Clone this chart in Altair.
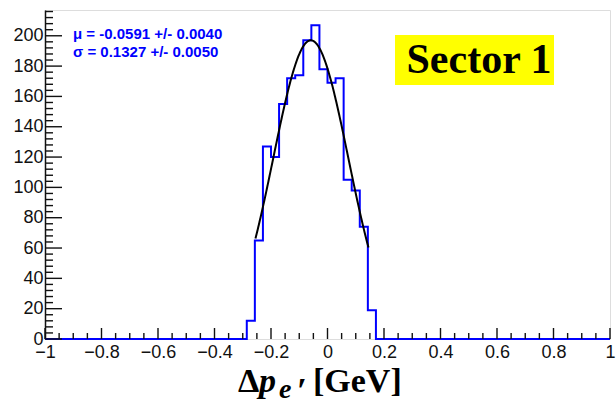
import altair as alt
import pandas as pd

# Histogram binning: 70 equal bins over [-1, 1]
N_BINS = 70
X_MIN, X_MAX = -1.0, 1.0
FIRST_FILLED_BIN = 25
filled_counts = [12, 65, 127, 120, 155, 172, 174, 197, 207, 178, 169, 172, 105, 98, 74, 19]

# Gaussian fit result
MU, MU_ERR = -0.0591, 0.0040
SIGMA, SIGMA_ERR = 0.1327, 0.0050
FIT_AMP = 197
FIT_LO, FIT_HI = -0.255, 0.145

# Axis ticks
x_major = [-1, -0.8, -0.6, -0.4, -0.2, 0, 0.2, 0.4, 0.6, 0.8, 1]
x_minor = [-0.95, -0.9, -0.85, -0.75, -0.7, -0.65, -0.55, -0.5, -0.45,
           -0.35, -0.3, -0.25, -0.15, -0.1, -0.05, 0.05, 0.1, 0.15,
           0.25, 0.3, 0.35, 0.45, 0.5, 0.55, 0.65, 0.7, 0.75, 0.85, 0.9, 0.95]
y_major = [0, 20, 40, 60, 80, 100, 120, 140, 160, 180, 200]
y_minor = [4, 8, 12, 16, 24, 28, 32, 36, 44, 48, 52, 56, 64, 68, 72, 76,
           84, 88, 92, 96, 104, 108, 112, 116, 124, 128, 132, 136, 144, 148,
           152, 156, 164, 168, 172, 176, 184, 188, 192, 196, 204, 208, 212, 216]
Y_MAX = 217

W, H = 565, 329
BLUE = "#0000ff"
SANS = "Liberation Sans"
SERIF = "Liberation Serif"

# Bin edges with per-bin contents (last edge repeats the last bin for the step line)
counts = [0] * N_BINS
for i, c in enumerate(filled_counts):
    counts[FIRST_FILLED_BIN + i] = c
bw = (X_MAX - X_MIN) / N_BINS
edges = [X_MIN + k * bw for k in range(N_BINS + 1)]
hist_df = pd.DataFrame({"edge": edges, "count": counts + [counts[-1]]})

xs = alt.Scale(domain=[X_MIN, X_MAX], nice=False, zero=False)
ys = alt.Scale(domain=[0, Y_MAX], nice=False, zero=True)

# The same axis definitions are used by every layer so they merge cleanly
x_axis = alt.Axis(values=x_major, format="~g", title=None, ticks=False,
                  grid=False, domain=False, labelFont=SANS, labelFontSize=18,
                  labelColor="#111", labelPadding=4, labelFlush=False,
                  labelOverlap=False, labelBound=False)
y_axis = alt.Axis(values=y_major, format="d", title=None, ticks=False,
                  grid=False, domain=True, domainColor="#111", domainWidth=1.5,
                  labelFont=SANS, labelFontSize=18, labelColor="#111",
                  labelPadding=2, labelOverlap=False, labelBound=False)

hist = alt.Chart(hist_df).mark_line(
    interpolate="step-after", color=BLUE, strokeWidth=2
).encode(
    x=alt.X("edge:Q", scale=xs, axis=x_axis),
    y=alt.Y("count:Q", scale=ys, axis=y_axis),
)

fit = alt.Chart(alt.sequence(0, 201, as_="i")).transform_calculate(
    x=f"{FIT_LO} + datum.i * ({FIT_HI} - ({FIT_LO})) / 200"
).transform_calculate(
    y=f"{FIT_AMP} * exp(-0.5 * pow((datum.x - ({MU})) / {SIGMA}, 2))"
).mark_line(color="black", strokeWidth=2).encode(
    x=alt.X("x:Q", scale=xs, axis=x_axis), y=alt.Y("y:Q", scale=ys, axis=y_axis)
)

# Inward-pointing ticks
def x_ticks(vals, length):
    return alt.Chart(pd.DataFrame({"xt": vals})).mark_rule(
        color="#111", strokeWidth=1.4
    ).encode(x=alt.X("xt:Q", scale=xs, axis=x_axis), y=alt.value(H),
             y2=alt.value(H - length))

def y_ticks(vals, length):
    return alt.Chart(pd.DataFrame({"yt": vals})).mark_rule(
        color="#111", strokeWidth=1.4
    ).encode(y=alt.Y("yt:Q", scale=ys, axis=y_axis), x=alt.value(0),
             x2=alt.value(length))

one = pd.DataFrame({"a": [0]})

def label(text, x, y, **kw):
    return alt.Chart(one).mark_text(align="left", baseline="alphabetic", **kw).encode(
        x=alt.value(x), y=alt.value(y), text=alt.value(text)
    )

stats1 = label(f"\u03bc = {MU:.4f} +/- {MU_ERR:.4f}", 28, 29, font=SANS,
               fontSize=15, fontWeight="bold", color=BLUE)
stats2 = label(f"\u03c3 = {SIGMA:.4f} +/- {SIGMA_ERR:.4f}", 28, 47, font=SANS,
               fontSize=15, fontWeight="bold", color=BLUE)

box = alt.Chart(one).mark_rect(color="#ffff00").encode(
    x=alt.value(350), x2=alt.value(509), y=alt.value(25), y2=alt.value(75)
)
sector = alt.Chart(one).mark_text(
    align="center", baseline="alphabetic", font=SERIF, fontSize=42,
    fontWeight="bold", color="black"
).encode(x=alt.value(434), y=alt.value(63), text=alt.value("Sector 1"))

t_delta = label("\u0394", 193, 382, font=SERIF, fontSize=34, fontWeight="bold", color="black")
t_p = label("p", 214, 382, font=SERIF, fontSize=34, fontWeight="bold",
            fontStyle="italic", color="black")
t_sub = label("e", 234, 388, font=SERIF, fontSize=28, fontWeight="bold",
              fontStyle="italic", color="black")
t_prime = label("\u2032", 252, 393, font=SERIF, fontSize=36,
                fontWeight="bold", color="black")
t_unit = label("[GeV]", 268, 382, font=SERIF, fontSize=34, fontWeight="bold", color="black")

chart = alt.layer(
    box, sector, hist, fit,
    x_ticks(x_major, 11), x_ticks(x_minor, 6),
    y_ticks(y_major, 17), y_ticks(y_minor, 8),
    stats1, stats2, t_delta, t_p, t_sub, t_prime, t_unit,
).properties(
    width=W, height=H, autosize="none",
    padding={"left": 45, "top": 10, "right": 6, "bottom": 60},
).configure_view(stroke="#333", strokeWidth=1.2).configure(background="white")

chart.save("out.html", embed_options={"renderer": "svg", "actions": False})
